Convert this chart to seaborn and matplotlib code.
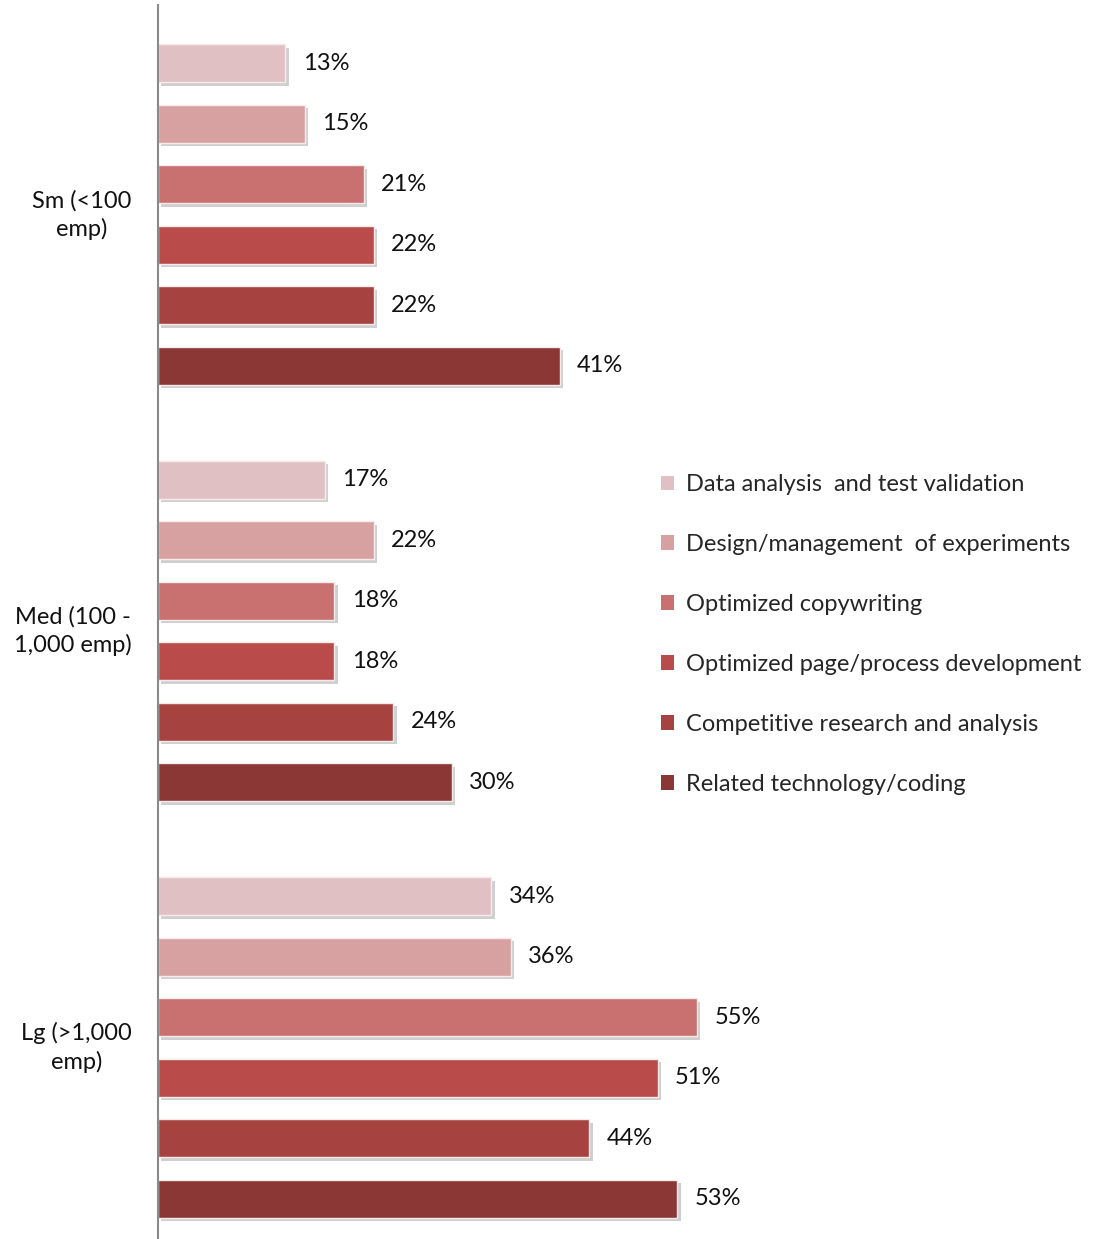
import pandas as pd
import seaborn as sns
import matplotlib.pyplot as plt
from matplotlib.patches import Patch
from matplotlib import patheffects as pe
from matplotlib.transforms import ScaledTranslation

sizes = ["Sm (<100\nemp)", "Med (100 -\n1,000 emp)", "Lg (>1,000\nemp)"]
activities = ["Data analysis  and test validation",
              "Design/management  of experiments",
              "Optimized copywriting",
              "Optimized page/process development",
              "Competitive research and analysis",
              "Related technology/coding"]
sm_pct = [13, 15, 21, 22, 22, 41]
med_pct = [17, 22, 18, 18, 24, 30]
lg_pct = [34, 36, 55, 51, 44, 53]
colors = ["#E0C0C3", "#D7A1A1", "#C87170", "#B94C4A", "#A6423F", "#8B3735"]

rows = []
for size, vals in zip(sizes, [sm_pct, med_pct, lg_pct]):
    for act, v in zip(activities, vals):
        rows.append({"size": size, "activity": act, "pct": v})
df = pd.DataFrame(rows)

sns.set_theme(style="white")
plt.rcParams['font.family'] = ['Lato', 'DejaVu Sans']

fig = plt.figure(figsize=(11.07, 12.39), dpi=100)
ax = fig.add_axes([158 / 1107, 0, 942 / 1107, 1 - 5 / 1239])

sns.barplot(data=df, y="size", x="pct", hue="activity", hue_order=activities,
            palette=colors, saturation=1, orient="h", width=0.872, gap=0.37, ax=ax,
            legend=False, edgecolor="#f6eaea", linewidth=1)

shadow = [pe.SimplePatchShadow(offset=(2.5, -2.5), alpha=0.35, shadow_rgbFace="#777777"), pe.Normal()]
for p in ax.patches:
    p.set_path_effects(shadow)

for c in ax.containers:
    ax.bar_label(c, fmt="{:.0f}%", padding=12.5, fontsize=17, color="#111111")

ax.set_xlim(0, 942 / 9.8)
ax.set_ylim(2.46, -0.503)
ax.set_xlabel("")
ax.set_ylabel("")
ax.set_xticks([])
ax.tick_params(axis="y", length=0, pad=19, labelsize=17, labelcolor="#111111")
nudge = ScaledTranslation(0, 5 / 100, fig.dpi_scale_trans)
for lab in ax.get_yticklabels():
    lab.set_multialignment("center")
    lab.set_linespacing(1.35)
    lab.set_transform(lab.get_transform() + nudge)
for s in ["top", "right", "bottom"]:
    ax.spines[s].set_visible(False)
ax.spines["left"].set_color("#8a8a8a")
ax.spines["left"].set_linewidth(1.5)

handles = [Patch(facecolor=c, edgecolor="none", label=a) for c, a in zip(colors, activities)]
fig.legend(handles=handles, loc="upper left", bbox_to_anchor=(661 / 1107, 1 - 474 / 1239),
           frameon=False, fontsize=17, handlelength=0.55, handleheight=0.55,
           handletextpad=0.5, labelspacing=1.65, borderpad=0, borderaxespad=0)

fig.savefig("out.png", dpi=100)
